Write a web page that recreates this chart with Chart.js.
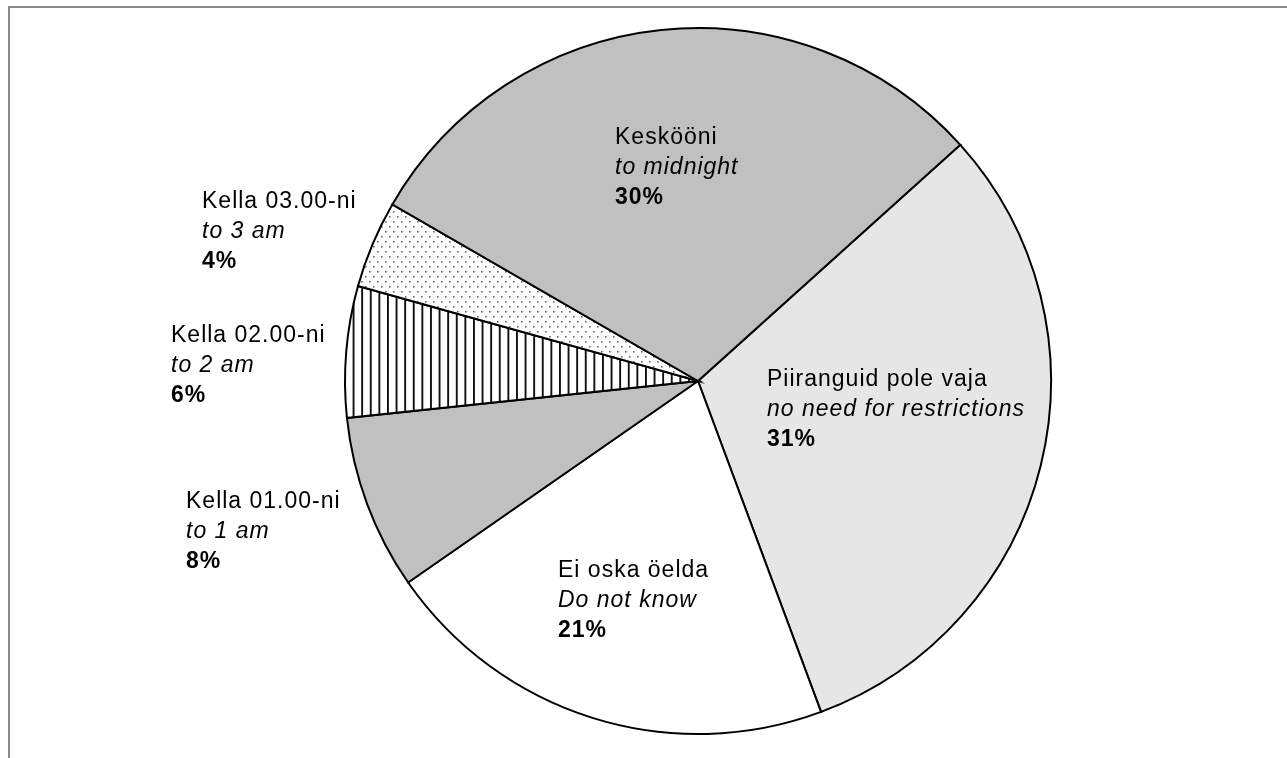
<!DOCTYPE html>
<html>
<head>
<meta charset="utf-8">
<script src="https://cdn.jsdelivr.net/npm/chart.js@4/dist/chart.umd.min.js"></script>
<style>
  html, body { margin: 0; padding: 0; background: #fff; }
  #wrap { position: relative; width: 1287px; height: 758px; }
</style>
</head>
<body>
<div id="wrap"><canvas id="c" width="1287" height="758"></canvas></div>
<script>
// ---- data ----
const labelsEt = ["Piiranguid pole vaja", "Ei oska öelda", "Kella 01.00-ni", "Kella 02.00-ni", "Kella 03.00-ni", "Keskööni"];
const labelsEn = ["no need for restrictions", "Do not know", "to 1 am", "to 2 am", "to 3 am", "to midnight"];
const shares = [31, 21, 8, 6, 4, 30];

// ---- layout (label anchor offsets from pie centre, px: left x, first baseline) ----
const labelOffsets = [[69, 5], [-140, 196], [-512, 127], [-527, -39], [-496, -173], [-83, -237]];

function stripePattern() {
  const c = document.createElement('canvas');
  c.width = 43; c.height = 10;
  const x = c.getContext('2d');
  x.fillStyle = '#fff'; x.fillRect(0, 0, 43, 10);
  x.fillStyle = '#111';
  for (let i = 0; i < 5; i++) x.fillRect(i * 8.6, 0, 1.9, 10);
  return x.createPattern(c, 'repeat');
}
function dotPattern() {
  const c = document.createElement('canvas');
  c.width = 8; c.height = 10;
  const x = c.getContext('2d');
  x.fillStyle = '#fff'; x.fillRect(0, 0, 8, 10);
  x.fillStyle = '#6a6a6a';
  x.fillRect(1, 1, 1.6, 1.6);
  x.fillRect(5, 6, 1.6, 1.6);
  return x.createPattern(c, 'repeat');
}

const fills = ['#e6e6e6', '#ffffff', '#c0c0c0', stripePattern(), dotPattern(), '#c0c0c0'];

const framePlugin = {
  id: 'frame',
  beforeDraw(chart) {
    const ctx = chart.ctx;
    ctx.save();
    ctx.fillStyle = '#8a8a8a';
    ctx.fillRect(8, 6, chart.width - 8, 2);
    ctx.fillRect(8, 6, 2, chart.height - 6);
    ctx.restore();
  }
};

const labelPlugin = {
  id: 'sliceLabels',
  afterDatasetsDraw(chart) {
    const ctx = chart.ctx;
    const meta = chart.getDatasetMeta(0);
    ctx.save();
    ctx.fillStyle = '#000';
    ctx.textAlign = 'left';
    ctx.textBaseline = 'alphabetic';
    if ('letterSpacing' in ctx) ctx.letterSpacing = '1px';
    meta.data.forEach((arc, i) => {
      const x = arc.x + labelOffsets[i][0];
      const y = arc.y + labelOffsets[i][1];
      ctx.font = '23px "Liberation Sans", Arial, sans-serif';
      ctx.fillText(labelsEt[i], x, y);
      ctx.font = 'italic 23px "Liberation Sans", Arial, sans-serif';
      ctx.fillText(labelsEn[i], x, y + 30);
      ctx.font = 'bold 23px "Liberation Sans", Arial, sans-serif';
      ctx.fillText(shares[i] + '%', x, y + 60);
    });
    ctx.restore();
  }
};

new Chart(document.getElementById('c'), {
  type: 'pie',
  data: {
    labels: labelsEt,
    datasets: [{
      data: shares,
      backgroundColor: fills,
      borderColor: '#000',
      borderWidth: 2,
      borderJoinStyle: 'miter'
    }]
  },
  options: {
    responsive: false,
    animation: false,
    rotation: 48,
    radius: 353,
    layout: { padding: { left: 109, right: 0, top: 4, bottom: 0 } },
    plugins: { legend: { display: false }, tooltip: { enabled: false } }
  },
  plugins: [framePlugin, labelPlugin]
});
</script>
</body>
</html>
